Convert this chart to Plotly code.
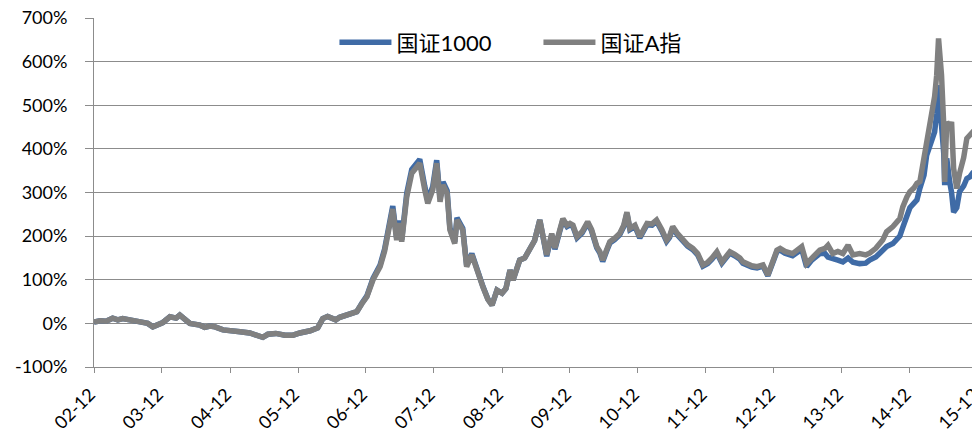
import plotly.graph_objects as go

dates = [
    "2002-12-01", "2003-01-03", "2003-02-04", "2003-03-11", "2003-04-08", "2003-05-04", "2003-06-11",
    "2003-08-04", "2003-09-16", "2003-10-13", "2003-11-09", "2003-12-06", "2004-01-13", "2004-02-15",
    "2004-03-06", "2004-04-02", "2004-04-29", "2004-06-22", "2004-07-18", "2004-08-15", "2004-09-11",
    "2004-10-24", "2004-12-11", "2005-01-24", "2005-03-17", "2005-04-29", "2005-05-26", "2005-06-22",
    "2005-08-04", "2005-09-22", "2005-11-04", "2005-12-11", "2006-02-04", "2006-03-17", "2006-04-13",
    "2006-05-09", "2006-06-22", "2006-07-13", "2006-09-06", "2006-10-13", "2006-11-09", "2006-12-06",
    "2007-01-08", "2007-02-15", "2007-03-11", "2007-03-27", "2007-04-24", "2007-05-15", "2007-06-01",
    "2007-06-11", "2007-07-08", "2007-08-04", "2007-08-25", "2007-09-16", "2007-10-13", "2007-10-29",
    "2007-11-25", "2007-12-16", "2008-01-03", "2008-01-19", "2008-02-10", "2008-02-25", "2008-03-22",
    "2008-04-03", "2008-05-04", "2008-05-25", "2008-06-22", "2008-07-18", "2008-08-20", "2008-09-16",
    "2008-10-08", "2008-11-04", "2008-12-01", "2008-12-22", "2009-01-13", "2009-01-29", "2009-03-06",
    "2009-04-02", "2009-04-29", "2009-05-25", "2009-06-22", "2009-07-08", "2009-07-29", "2009-08-25",
    "2009-09-11", "2009-10-08", "2009-10-24", "2009-11-15", "2009-12-01", "2009-12-17", "2010-01-08",
    "2010-02-04", "2010-03-06", "2010-03-27", "2010-04-24", "2010-05-10", "2010-05-26", "2010-06-17",
    "2010-07-03", "2010-07-29", "2010-08-25", "2010-09-16", "2010-10-03", "2010-10-19", "2010-11-15",
    "2010-12-11", "2011-01-03", "2011-01-19", "2011-02-15", "2011-03-11", "2011-04-08", "2011-05-04",
    "2011-05-20", "2011-06-06", "2011-07-03", "2011-07-29", "2011-08-25", "2011-09-22", "2011-10-18",
    "2011-11-15", "2011-12-11", "2012-01-03", "2012-01-29", "2012-02-25", "2012-03-17", "2012-04-08",
    "2012-05-04", "2012-06-01", "2012-06-17", "2012-07-13", "2012-08-04", "2012-09-01", "2012-10-03",
    "2012-10-29", "2012-11-20", "2012-12-17", "2013-01-03", "2013-01-29", "2013-03-11", "2013-04-08",
    "2013-04-29", "2013-05-25", "2013-06-22", "2013-08-04", "2013-09-01", "2013-09-17", "2013-10-13",
    "2013-11-09", "2013-12-06", "2014-01-03", "2014-01-29", "2014-03-06", "2014-04-08", "2014-04-29",
    "2014-06-01", "2014-07-08", "2014-07-29", "2014-09-01", "2014-10-08", "2014-10-24", "2014-11-15",
    "2014-12-01", "2014-12-22", "2015-01-08", "2015-01-24", "2015-02-15", "2015-03-01", "2015-03-27",
    "2015-04-13", "2015-04-24", "2015-05-04", "2015-05-20", "2015-06-01", "2015-06-06", "2015-06-17",
    "2015-07-03", "2015-07-13", "2015-07-24", "2015-08-10", "2015-08-25", "2015-09-16", "2015-10-03",
    "2015-10-19", "2015-11-04", "2015-11-20", "2015-12-01",
]

guozheng_a = [
    3, 6, 5, 12, 8, 11, 8,
    4, 0, -8, -3, 2, 15, 12,
    19, 10, 0, -4, -9, -6, -8,
    -15, -16, -19, -22, -28, -32, -25,
    -23, -27, -27, -22, -17, -10, 11,
    16, 8, 14, 22, 27, 45, 61,
    100, 130, 165, 206, 262, 191, 230,
    187, 290, 344, 356, 367, 306, 275,
    306, 367, 279, 317, 298, 214, 183,
    237, 214, 130, 157, 122, 84, 55,
    42, 76, 69, 80, 122, 99, 145,
    150, 168, 190, 237, 200, 157, 206,
    173, 215, 240, 225, 229, 225, 199,
    210, 233, 215, 176, 165, 145, 170,
    187, 195, 206, 225, 255, 218, 225,
    199, 215, 229, 228, 237, 215, 191,
    200, 222, 205, 191, 180, 172, 160,
    134, 140, 150, 164, 141, 155, 164,
    158, 150, 141, 135, 132, 130, 134,
    111, 140, 168, 172, 165, 160, 168,
    176, 137, 150, 168, 172, 179, 160,
    165, 160, 179, 157, 160, 157, 161,
    172, 191, 210, 222, 240, 267, 290,
    302, 310, 321, 325, 380, 431, 485,
    520, 569, 653, 569, 454, 324, 462,
    450, 462, 355, 309, 344, 380, 424,
    430, 439, 430, 439,
]

guozheng_1000 = [
    3, 6, 5, 12, 8, 11, 8,
    4, 0, -8, -3, 2, 15, 12,
    19, 10, 0, -4, -9, -6, -8,
    -15, -16, -19, -22, -28, -32, -25,
    -23, -27, -27, -22, -17, -10, 11,
    16, 8, 14, 22, 27, 46, 63,
    103, 134, 170, 212, 269, 196, 236,
    192, 298, 353, 365, 376, 314, 282,
    314, 374, 286, 324, 304, 219, 187,
    242, 218, 133, 160, 124, 85, 56,
    42, 76, 69, 80, 122, 99, 145,
    150, 168, 190, 237, 198, 154, 203,
    170, 212, 237, 222, 226, 222, 196,
    207, 230, 212, 173, 162, 142, 167,
    184, 192, 203, 222, 252, 215, 222,
    196, 212, 226, 225, 234, 212, 188,
    197, 219, 202, 188, 177, 169, 157,
    131, 137, 147, 161, 138, 152, 161,
    155, 147, 138, 132, 129, 127, 131,
    109, 137, 165, 168, 161, 155, 163,
    170, 130, 145, 160, 160, 152, 150,
    145, 141, 150, 140, 137, 138, 145,
    152, 165, 176, 183, 200, 220, 252,
    265, 275, 283, 310, 340, 385, 420,
    439, 480, 546, 454, 390, 317, 378,
    324, 300, 255, 265, 302, 315, 332,
    336, 345, 345, 347,
]

series_names = ["国证1000", "国证A指"]
y_tick_values = [-100, 0, 100, 200, 300, 400, 500, 600, 700]
y_tick_labels = ["-100%", "0%", "100%", "200%", "300%", "400%", "500%", "600%", "700%"]
tick_start = "2002-12-01"
x_end = "2015-12-02"

FONT = "Lato, 'Noto Sans CJK SC', sans-serif"
GRID = "#8c8c8c"

fig = go.Figure()
fig.add_trace(go.Scatter(
    x=dates, y=guozheng_1000, mode="lines", name=series_names[0],
    line=dict(color="#3f6ba6", width=5.5),
))
fig.add_trace(go.Scatter(
    x=dates, y=guozheng_a, mode="lines", name=series_names[1],
    line=dict(color="#808080", width=5.5),
))

# page body has an 8px default margin, so the figure is 972x433
fig.update_layout(
    width=972, height=433,
    margin=dict(l=86, r=2, t=10, b=74),
    paper_bgcolor="white", plot_bgcolor="white",
    font=dict(family=FONT, size=18, color="#000000"),
    showlegend=True,
    legend=dict(
        orientation="h", x=0.272, xanchor="left", y=0.93, yanchor="middle",
        bgcolor="rgba(255,255,255,0)", font=dict(size=22),
        itemwidth=52, entrywidth=137,
    ),
    xaxis=dict(
        type="date", range=[tick_start, x_end], automargin=False,
        tickmode="linear", tick0=tick_start, dtick="M12", tickformat="%y-%m",
        tickangle=-45, ticks="outside", ticklen=5, tickcolor=GRID,
        ticklabelstandoff=4, ticklabelshift=-4, ticklabeloverflow="allow",
        showline=True, linecolor=GRID, linewidth=1,
        showgrid=False, zeroline=False,
        tickfont=dict(size=18),
    ),
    yaxis=dict(
        range=[-100, 700], automargin=False,
        tickmode="array", tickvals=y_tick_values, ticktext=y_tick_labels,
        ticks="outside", ticklen=8, tickcolor=GRID, ticklabelstandoff=14,
        ticklabeloverflow="allow",
        showline=True, linecolor=GRID, linewidth=1,
        showgrid=True, gridcolor=GRID, gridwidth=1,
        zeroline=False, tickfont=dict(size=18),
    ),
)

fig.write_html("out.html")
